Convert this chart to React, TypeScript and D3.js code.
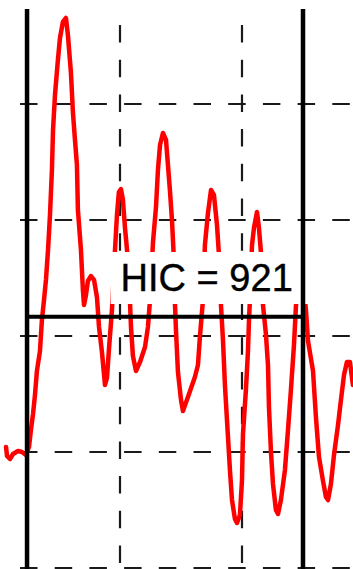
import React from "react";
import * as d3 from "d3";

// Acceleration trace (time in ms, acceleration in g)
const timeMs = [
  10.66, 10.74, 10.98, 11.23, 11.64, 11.96, 12.29, 12.54, 12.7, 12.87, 13.03, 13.19, 13.44, 13.6, 13.77, 13.93,
  14.1, 14.26, 14.42, 14.51, 14.67, 14.91, 15.08, 15.32, 15.57, 15.73, 15.98, 16.14, 16.31, 16.47, 16.55, 16.8,
  16.96, 17.05, 17.21, 17.37, 17.62, 17.87, 18.11, 18.28, 18.52, 18.77, 18.93, 19.09, 19.34, 19.59, 19.75, 19.91,
  20.08, 20.24, 20.41, 20.65, 20.82, 20.9, 21.06, 21.31, 21.64, 22.05, 22.29, 22.46, 22.7, 22.95, 23.11, 23.28,
  23.52, 23.77, 23.93, 24.09, 24.26, 24.42, 24.5, 24.59, 24.75, 25.0, 25.16, 25.57, 26.14, 26.39, 26.55, 26.8,
  26.96, 27.21, 27.46, 27.7, 27.95, 28.11, 28.28, 28.44, 28.6, 28.85, 29.01, 29.18, 29.42, 29.59, 29.83, 30.0,
  30.08, 30.32, 30.49, 30.57, 30.65, 30.82, 30.98, 31.23, 31.39, 31.55, 31.72, 31.96, 32.13, 32.21, 32.37, 32.54,
  32.78, 32.95, 33.19, 33.52, 33.77, 34.01, 34.26, 34.42, 34.75, 35.08, 35.24, 35.41, 35.82, 36.06, 36.31, 36.64,
  36.88, 37.05, 37.29, 37.54, 37.87, 38.11, 38.36, 38.6, 38.85, 39.09,
];
const accelG = [
  0.86, -0.69, -1.21, -0.34, 0.17, 0.0, -0.52, 0.86, 3.79, 6.55, 9.83, 13.97, 17.41, 22.76, 26.21, 29.66,
  34.83, 40.86, 48.62, 55.52, 61.55, 67.59, 71.38, 74.14, 74.83, 71.9, 65.34, 58.62, 53.79, 49.48, 41.72, 34.83,
  27.93, 25.34, 27.07, 29.48, 30.34, 29.66, 26.72, 21.55, 17.24, 11.55, 12.76, 17.59, 24.48, 34.83, 40.86, 44.83,
  45.34, 43.45, 38.62, 33.1, 25.86, 21.55, 16.55, 13.97, 15.52, 18.1, 21.55, 26.21, 36.03, 42.24, 48.62, 52.93,
  55.0, 53.79, 49.48, 45.17, 40.0, 33.1, 25.86, 20.86, 13.79, 8.97, 7.07, 9.48, 12.93, 15.0, 19.83, 26.21,
  35.69, 41.21, 45.17, 44.31, 39.14, 33.97, 25.17, 19.31, 11.55, 2.59, -3.1, -8.28, -11.55, -12.24, -10.86, -4.83,
  3.1, 10.69, 17.41, 22.59, 26.21, 35.69, 38.62, 41.38, 38.62, 34.48, 25.34, 20.34, 15.0, 7.76, 0.17, -5.52,
  -10.0, -10.69, -8.28, -3.1, 3.79, 10.69, 18.45, 25.17, 30.52, 27.93, 24.48, 19.14, 13.97, 6.03, -0.86, -5.0,
  -7.76, -8.28, -5.52, -0.52, 4.66, 8.97, 13.28, 15.52, 15.52, 11.55,
];

const xGridMs = [20, 30];
const yGridG = [-20, 0, 20, 40, 60];
const hicWindowMs = [12.38, 35.0];
const hicLevelG = 23.3;
const hicLabel = "HIC = 921";
const labelPos = { t: 20.05, a: 27.76 };

const W = 353;
const H = 569;

export default function App() {
  const x = d3.scaleLinear().domain([10, 40]).range([-2, 364]);
  const y = d3.scaleLinear().domain([-20, 80]).range([568, -12]);

  const data = timeMs.map((t, i) => ({ t, a: accelG[i] }));
  const line = d3
    .line<{ t: number; a: number }>()
    .x((d) => x(d.t))
    .y((d) => y(d.a));

  const gridTop = 25;
  const gridLeft = 20;
  const solidTop = 9;
  const dash = "17.5 17.2";

  const lx = x(labelPos.t);
  const ly = y(labelPos.a);

  return (
    <svg
      width={W}
      height={H}
      style={{ position: "absolute", left: 0, top: 0, background: "#fff" }}
    >
      <rect x={0} y={0} width={W} height={H} fill="#fff" />
      {/* dashed grid */}
      {xGridMs.map((t) => (
        <line
          key={"vx" + t}
          x1={x(t)}
          x2={x(t)}
          y1={gridTop}
          y2={H}
          stroke="#1a1a1a"
          strokeWidth={2.2}
          strokeDasharray={dash}
        />
      ))}
      {yGridG.map((a) => (
        <line
          key={"hy" + a}
          x1={gridLeft}
          x2={W}
          y1={y(a)}
          y2={y(a)}
          stroke="#1a1a1a"
          strokeWidth={2.2}
          strokeDasharray={dash}
        />
      ))}
      {/* trace */}
      <path
        d={line(data) || ""}
        fill="none"
        stroke="#ff0000"
        strokeWidth={4.5}
        strokeLinejoin="round"
        strokeLinecap="round"
      />
      {/* label box */}
      <rect x={lx - 10} y={ly - 39} width={200} height={52} fill="#fff" />
      <text
        x={lx}
        y={ly}
        fontFamily="'Liberation Sans', Arial, sans-serif"
        fontSize={38}
        fill="#000"
        stroke="#000"
        strokeWidth={0.4}
      >
        {hicLabel}
      </text>
      {/* HIC window */}
      {hicWindowMs.map((t) => (
        <line
          key={"w" + t}
          x1={x(t)}
          x2={x(t)}
          y1={solidTop}
          y2={H}
          stroke="#000"
          strokeWidth={4.5}
        />
      ))}
      <line
        x1={x(hicWindowMs[0])}
        x2={x(hicWindowMs[1])}
        y1={y(hicLevelG)}
        y2={y(hicLevelG)}
        stroke="#000"
        strokeWidth={4}
      />
    </svg>
  );
}
